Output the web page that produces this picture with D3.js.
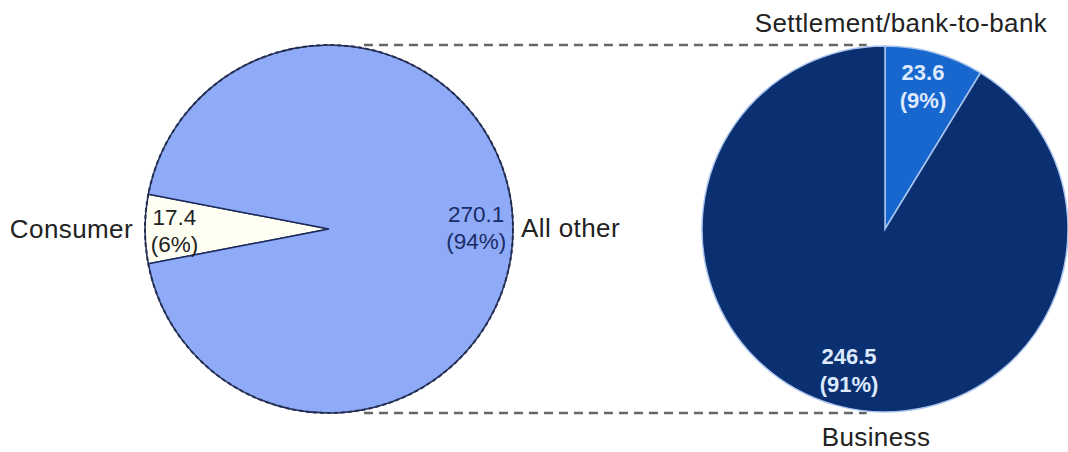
<!DOCTYPE html>
<html><head><meta charset="utf-8">
<script src="https://cdn.jsdelivr.net/npm/d3@7"></script>
<style>
html,body{margin:0;padding:0;background:#fff;}
svg{display:block;}
text{font-family:"Liberation Sans",Arial,sans-serif;}
</style></head>
<body>
<svg id="chart" width="1068" height="452"></svg>
<script>
// Data
const leftCategories = ["Consumer", "All other"];
const leftValues = [17.4, 270.1];
const rightCategories = ["Settlement/bank-to-bank", "Business"];
const rightValues = [23.6, 246.5];

const svg = d3.select("#chart");

// Geometry
const left = {cx: 329, cy: 229, r: 184};
const right = {cx: 885, cy: 229, r: 183};

const leftColors = ["#fffff4", "#8faaf7"];
const rightColors = ["#1767cf", "#0b3071"];

// Connector dashed lines (behind pies)
const conn = svg.append("g");
[left.cy - left.r, left.cy + left.r].forEach(y => {
  conn.append("line")
    .attr("x1", left.cx + left.r * 0.19).attr("x2", right.cx - right.r * 0.1)
    .attr("y1", y).attr("y2", y)
    .attr("stroke", "#666666").attr("stroke-width", 2.5)
    .attr("stroke-dasharray", "9,6");
});

// Left pie
const leftTotal = d3.sum(leftValues);
const consumerAngle = leftValues[0] / leftTotal * 2 * Math.PI;
const leftStart = 1.5 * Math.PI - consumerAngle / 2;
const leftPie = d3.pie().sort(null).startAngle(leftStart).endAngle(leftStart + 2 * Math.PI);
const leftArc = d3.arc().innerRadius(0).outerRadius(left.r);
const gL = svg.append("g").attr("transform", `translate(${left.cx},${left.cy})`);
gL.selectAll("path").data(leftPie(leftValues)).join("path")
  .attr("d", leftArc)
  .attr("fill", (d, i) => leftColors[i])
  .attr("stroke", "#1d2b5c").attr("stroke-width", 1.5);
gL.append("circle").attr("r", left.r).attr("fill", "none")
  .attr("stroke", "#27304f").attr("stroke-width", 2).attr("stroke-dasharray", "4,3");

// Right pie
const rightPie = d3.pie().sort(null).startAngle(0).endAngle(2 * Math.PI);
const rightArc = d3.arc().innerRadius(0).outerRadius(right.r);
const gR = svg.append("g").attr("transform", `translate(${right.cx},${right.cy})`);
gR.selectAll("path").data(rightPie(rightValues)).join("path")
  .attr("d", rightArc)
  .attr("fill", (d, i) => rightColors[i])
  .attr("stroke", "#a9c4ee").attr("stroke-width", 1.5);

const rightTotal = d3.sum(rightValues);
const pct = (v, t) => "(" + Math.round(v / t * 100) + "%)";

// Left pie value labels
const lv = [
  {x: left.cx - left.r * 0.84, y: 225, color: "#222222"},
  {x: left.cx + left.r * 0.80, y: 222, color: "#1a2c66"}
];
leftValues.forEach((v, i) => {
  const t = gL.append("text").attr("text-anchor", "middle")
    .attr("font-size", 22.5).attr("fill", lv[i].color)
    .attr("transform", `translate(${lv[i].x - left.cx},${lv[i].y - left.cy})`);
  t.append("tspan").attr("x", 0).attr("y", 0).text(v.toFixed(1));
  t.append("tspan").attr("x", 0).attr("y", 27).text(pct(v, leftTotal));
});

const catStyle = sel => sel.attr("font-size", 26).attr("letter-spacing", 0.4).attr("fill", "#222");

// Left category labels
svg.append("text").attr("x", left.cx - left.r - 12).attr("y", 238)
  .attr("text-anchor", "end").call(catStyle).text(leftCategories[0]);
svg.append("text").attr("x", left.cx + left.r + 8).attr("y", 237)
  .attr("text-anchor", "start").call(catStyle).text(leftCategories[1]);

// Right pie value labels
const rv = [
  {x: 923, y: 80},
  {x: 849, y: 364}
];
rightValues.forEach((v, i) => {
  const t = svg.append("text").attr("text-anchor", "middle")
    .attr("font-size", 22).attr("font-weight", "bold").attr("fill", "#dde9ff")
    .attr("transform", `translate(${rv[i].x},${rv[i].y})`);
  t.append("tspan").attr("x", 0).attr("y", 0).text(v.toFixed(1));
  t.append("tspan").attr("x", 0).attr("y", 28).text(pct(v, rightTotal));
});

// Right category labels
svg.append("text").attr("x", 901).attr("y", 32)
  .attr("text-anchor", "middle").call(catStyle).text(rightCategories[0]);
svg.append("text").attr("x", 876).attr("y", 446)
  .attr("text-anchor", "middle").call(catStyle).text(rightCategories[1]);
</script>
</body></html>
